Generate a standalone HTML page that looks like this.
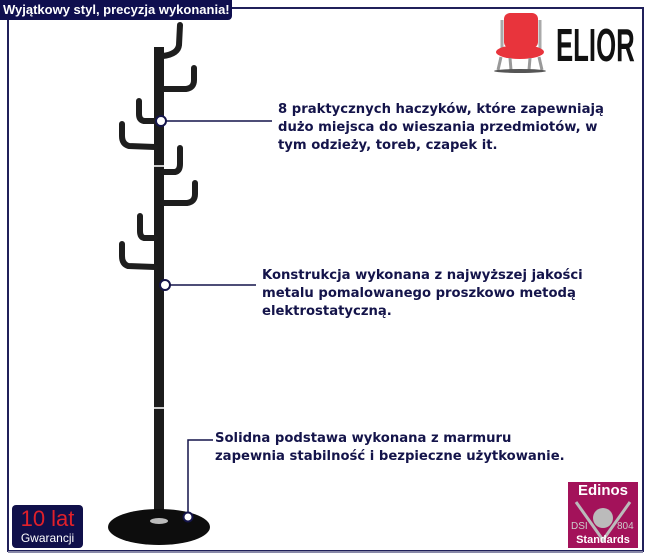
<!DOCTYPE html>
<html><head><meta charset="utf-8"><style>
body{margin:0;background:#fff;width:650px;height:560px;overflow:hidden;position:relative;font-family:"DejaVu Sans","Liberation Sans",sans-serif}
.t{position:absolute;color:#14144a;font-weight:bold;font-size:13.2px;line-height:18px;white-space:nowrap}
</style></head><body>
<svg width="650" height="560" style="position:absolute;left:0;top:0">
<path d="M232 8 H643 V551 H8 V20" fill="none" stroke="#20205a" stroke-width="2"/>
<path d="M8 552 H643" stroke="#8888a8" stroke-width="2"/>
<rect x="154" y="47" width="10" height="475" fill="#1c1c1c"/>
<rect x="154" y="165" width="10" height="2" fill="#ccc"/>
<rect x="154" y="407" width="10" height="2" fill="#ccc"/>
<g fill="none" stroke="#1e1e1e" stroke-width="6" stroke-linecap="round" stroke-linejoin="round">
<path d="M163 56 Q178 54 179 45 L180 25"/>
<path d="M163 89 L186 89 Q194 88 194 80 L194 68"/>
<path d="M155 121 L144 121 Q139 120 139 114 L139 101"/>
<path d="M155 147 L129 146 Q122 144 122 136 L122 124"/>
<path d="M163 172 L175 172 Q180 171 180 164 L180 148"/>
<path d="M163 203 L187 203 Q195 202 195 194 L195 183"/>
<path d="M155 238 L144 238 Q140 237 140 231 L140 216"/>
<path d="M155 267 L128 266 Q122 264 122 256 L122 244"/>
</g>
<ellipse cx="159" cy="527" rx="51" ry="18" fill="#0d0d0d"/>
<ellipse cx="159" cy="521" rx="9" ry="3" fill="#bbb"/>
<g stroke="#14144a" stroke-width="1.5" fill="none">
<path d="M162 121 H272"/>
<path d="M165 285 H256"/>
<path d="M188 512 V440 H213"/>
</g>
<g fill="#fff" stroke="#14144a" stroke-width="2">
<circle cx="161" cy="121" r="5"/>
<circle cx="165" cy="285" r="5"/>
<circle cx="188" cy="517" r="4.5"/>
</g>
<rect x="504" y="13" width="34" height="35" rx="6" fill="#e8343c"/>
<path d="M502 20 V50 M540 20 V50" stroke="#aaa" stroke-width="3"/>
<ellipse cx="520" cy="52" rx="24" ry="7" fill="#e8343c"/>
<path d="M501 57 L498 70 M539 57 L542 70 M510 58 L511 70 M530 58 L529 70" stroke="#999" stroke-width="3"/>
<ellipse cx="520" cy="71" rx="26" ry="2" fill="#555"/>
<rect x="568" y="482" width="70" height="66" fill="#a3125a"/>
<path d="M576 502 L603 540 L630 502" stroke="#bbb" stroke-width="3" fill="none"/>
<circle cx="603" cy="518" r="10" fill="#bbb"/>
</svg>
<div style="position:absolute;left:0;top:0;width:232px;height:20px;background:#0f0f4f;border-radius:0 0 4px 0;color:#fff;font-weight:bold;font-size:13px;line-height:19px;padding-left:3px;box-sizing:border-box;white-space:nowrap;overflow:hidden;font-family:'Liberation Sans',sans-serif">Wyjątkowy styl, precyzja wykonania!</div>
<div style="position:absolute;left:556px;top:20px;font-family:'Liberation Sans',sans-serif;font-weight:bold;font-size:46px;line-height:50px;color:#111;transform:scaleX(0.56);transform-origin:left top;white-space:nowrap">ELIOR</div>
<div class="t" style="left:278px;top:101px">8 praktycznych haczyków, które zapewniają<br>dużo miejsca do wieszania przedmiotów, w<br>tym odzieży, toreb, czapek it.</div>
<div class="t" style="left:262px;top:267px">Konstrukcja wykonana z najwyższej jakości<br>metalu pomalowanego proszkowo metodą<br>elektrostatyczną.</div>
<div class="t" style="left:215px;top:430px">Solidna podstawa wykonana z marmuru<br>zapewnia stabilność i bezpieczne użytkowanie.</div>
<div style="position:absolute;left:12px;top:505px;width:71px;height:43px;background:#10104a;border-radius:4px;text-align:center;font-family:'Liberation Sans',sans-serif">
<div style="color:#e0202a;font-size:22px;line-height:24px;margin-top:2px">10 lat</div>
<div style="color:#fff;font-size:12px;line-height:14px">Gwarancji</div></div>
<div style="position:absolute;left:568px;top:482px;width:70px;text-align:center;color:#fff;font-weight:bold;font-size:15px;line-height:18px;font-family:'Liberation Sans',sans-serif">Edinos</div>
<div style="position:absolute;left:571px;top:521px;color:#ccc;font-size:10px;font-family:'Liberation Sans',sans-serif">DSI</div>
<div style="position:absolute;left:617px;top:521px;color:#ccc;font-size:10px;font-family:'Liberation Sans',sans-serif">804</div>
<div style="position:absolute;left:568px;top:534px;width:70px;text-align:center;color:#fff;font-weight:bold;font-size:11px;font-family:'Liberation Sans',sans-serif">Standards</div>
</body></html>
